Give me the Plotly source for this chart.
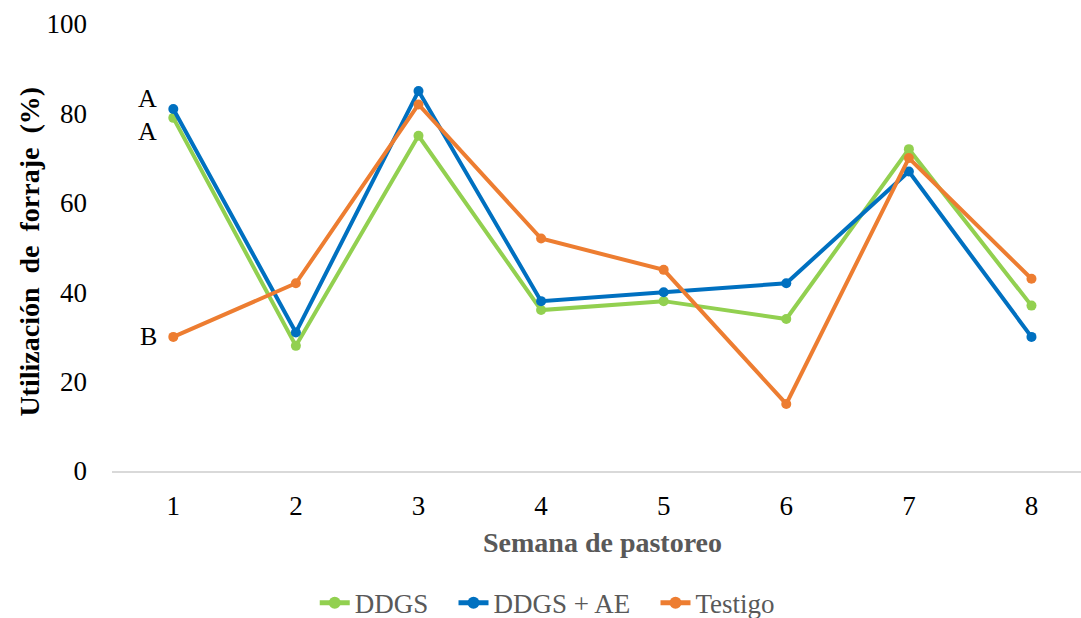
import plotly.graph_objects as go

semanas = [1, 2, 3, 4, 5, 6, 7, 8]
ddgs = [79, 28, 75, 36, 38, 34, 72, 37]
ddgs_ae = [81, 31, 85, 38, 40, 42, 67, 30]
testigo = [30, 42, 82, 52, 45, 15, 70, 43]
y_ticks = [0, 20, 40, 60, 80, 100]

series = [
    ("DDGS", ddgs, "#92d050"),
    ("DDGS + AE", ddgs_ae, "#0070c0"),
    ("Testigo", testigo, "#ed7d31"),
]

FONT = "Liberation Serif"
PAD = "\u00a0" * 3  # extra room between legend entries

fig = go.Figure()
for name, vals, color in series:
    fig.add_trace(go.Scatter(
        x=semanas, y=vals, name=name + PAD, mode="lines+markers",
        line=dict(color=color, width=4),
        marker=dict(color=color, size=10),
    ))

# significance letters beside week 1
letters = [("A", ddgs_ae[0], 10), ("A", ddgs[0], -14), ("B", testigo[0], 0)]
for txt, yv, ys in letters:
    fig.add_annotation(x=semanas[0], y=yv, text=txt, showarrow=False,
                       xanchor="right", xshift=-14, yshift=ys,
                       font=dict(family=FONT, size=26, color="#000000"))

fig.add_annotation(x=0.5067, y=-0.159, xref="paper", yref="paper",
                   text="<b>Semana de pastoreo</b>", showarrow=False,
                   xanchor="center", yanchor="middle",
                   font=dict(family=FONT, size=28, color="#595959"))

fig.add_annotation(x=-0.085, y=0.49, xref="paper", yref="paper",
                   text="<b>Utilización  de  forraje  (%)</b>", showarrow=False,
                   textangle=-90, xanchor="center", yanchor="middle",
                   font=dict(family=FONT, size=28, color="#000000"))

fig.update_layout(
    width=1081, height=618,
    margin=dict(l=112, r=0, t=24, b=147, autoexpand=False),
    paper_bgcolor="white", plot_bgcolor="white",
    font=dict(family=FONT, size=27, color="#000000"),
    showlegend=True,
    legend=dict(orientation="h", x=0.46, xanchor="center", y=-0.296, yanchor="middle",
                font=dict(family=FONT, size=27, color="#595959"),
                itemsizing="constant", tracegroupgap=0),
    xaxis=dict(range=[0.5, 8.404], tickmode="array", tickvals=semanas,
               ticktext=[str(s) for s in semanas],
               showgrid=False, zeroline=False, showline=True,
               linecolor="#d9d9d9", linewidth=2, ticks="", ticklabelstandoff=10,
               tickfont=dict(family=FONT, size=27, color="#000000")),
    yaxis=dict(range=[0, 100], tickvals=y_ticks, showgrid=False, zeroline=False,
               showline=False, ticks="", ticklabelstandoff=24,
               tickfont=dict(family=FONT, size=27, color="#000000")),
)

fig.write_html("out.html")
